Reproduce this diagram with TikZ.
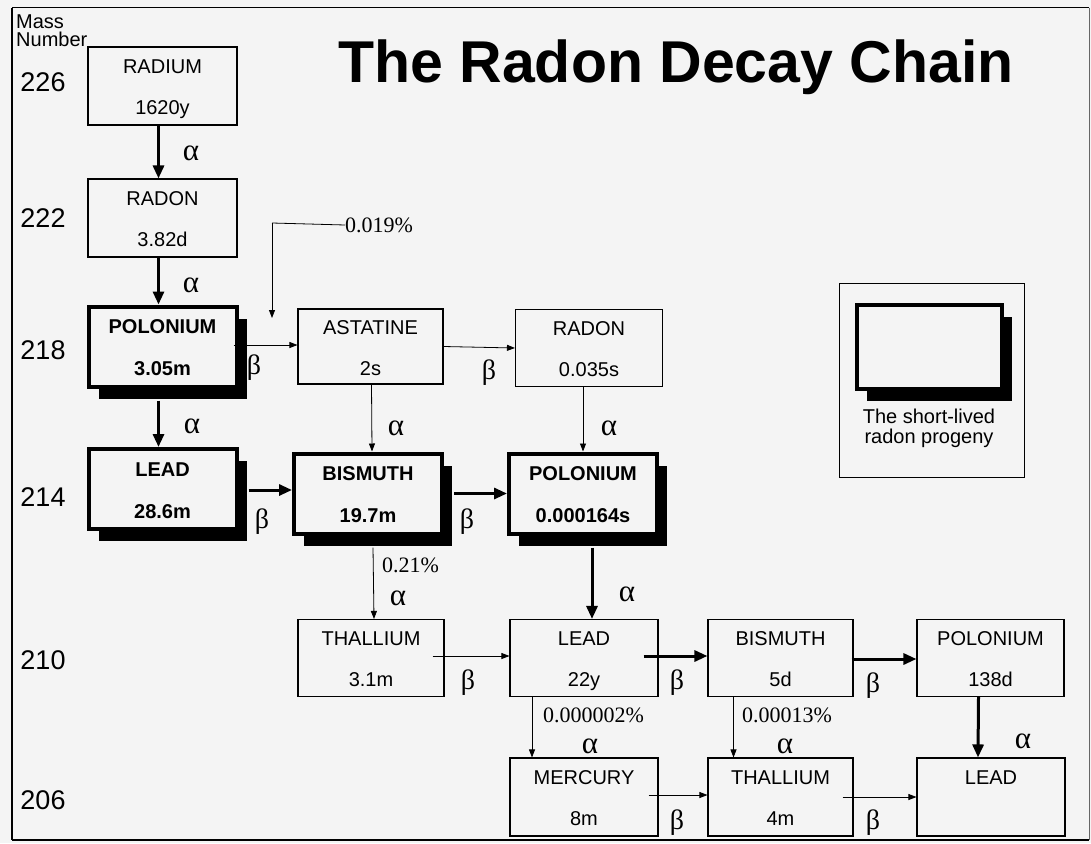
\documentclass[tikz,border=0pt]{standalone}
\usepackage{fontspec}
\setmainfont{Liberation Sans}
\newfontfamily\serifgr{Liberation Serif}
\usetikzlibrary{arrows.meta,shadows}
\definecolor{paper}{gray}{0.955}
\newcommand\elt[2]{\raisebox{0pt}[16pt][0pt]{#1}\\\raisebox{0pt}[14pt][0pt]{#2}}
\begin{document}
\begin{tikzpicture}[x=1pt,y=-1pt,
  every node/.style={inner sep=0pt},
  elem/.style={draw=black, fill=paper, line width=1.1pt, align=center,
    font=\fontsize{20}{41}\selectfont, minimum width=147pt, minimum height=77pt},
  shortlived/.style={elem, line width=4pt, minimum width=148pt, minimum height=80pt,
    font=\bfseries\fontsize{20}{42}\selectfont,
    drop shadow={shadow xshift=10pt, shadow yshift=-12pt, opacity=1, fill=black}},
  mass/.style={font=\fontsize{27}{27}\selectfont},
  alph/.style={font=\serifgr\fontsize{31}{31}\selectfont},
  bet/.style={font=\serifgr\fontsize{28}{28}\selectfont},
  pct/.style={font=\serifgr\fontsize{22}{22}\selectfont, anchor=west},
  strong/.style={line width=3pt, -{Triangle[length=13pt,width=11pt]}},
  weak/.style={line width=0.8pt, -{Triangle[length=8pt,width=6pt]}}
]
\useasboundingbox (0,0) rectangle (1091,843);
\fill[paper] (0,0) rectangle (1091,843);
% frame
\draw[line width=1pt] (1089,8) -- (12,8);
\draw[line width=2.5pt] (12,8) -- (12,840);
\draw[line width=1.5pt] (12,840) -- (1089,840);
\draw[line width=0.6pt, black!60] (1089,8) -- (1089,840);

% title
\node[font=\bfseries\fontsize{59}{59}\selectfont, anchor=base] (title) at (676,82) {The Radon Decay Chain};

% mass numbers
\node[font=\fontsize{20}{18}\selectfont, anchor=north west, align=left] (massnum) at (16,15) {Mass\\Number};
\node[mass] (m226) at (43,82) {226};
\node[mass] (m222) at (43,218) {222};
\node[mass] (m218) at (43,350) {218};
\node[mass] (m214) at (43,497) {214};
\node[mass] (m210) at (43,660) {210};
\node[mass] (m206) at (43,800) {206};

% legend
\draw[line width=1pt] (839,283) rectangle (1024,477);
\node[shortlived, minimum width=145pt, minimum height=84pt] (legbox) at (929,346.5) {};
\node[font=\fontsize{20}{20}\selectfont, align=center] (legtext) at (929,428) {The short-lived\\radon progeny};

% elements
\node[elem, minimum width=149pt, minimum height=78pt] (ra) at (162.5,86) {\elt{RADIUM}{1620y}};
\node[elem, minimum width=149pt, minimum height=78pt] (rn222) at (162.5,218) {\elt{RADON}{3.82d}};
\node[shortlived] (po218) at (162.5,346.5) {\elt{POLONIUM}{3.05m}};
\node[elem, minimum width=145pt, minimum height=75pt] (at) at (370.5,346.5) {\elt{ASTATINE}{2s}};
\node[elem] (rn218) at (589,348) {\elt{RADON}{0.035s}};
\node[shortlived] (pb214) at (162.5,489) {\elt{LEAD}{28.6m}};
\node[shortlived] (bi214) at (368,493.5) {\elt{BISMUTH}{19.7m}};
\node[shortlived] (po214) at (583,493.5) {\elt{POLONIUM}{0.000164s}};
\node[elem, minimum width=146pt] (tl210) at (371,658) {\elt{THALLIUM}{3.1m}};
\node[elem, minimum width=148pt] (pb210) at (584,658) {\elt{LEAD}{22y}};
\node[elem, minimum width=145pt] (bi210) at (780.5,658) {\elt{BISMUTH}{5d}};
\node[elem] (po210) at (990.5,658) {\elt{POLONIUM}{138d}};
\node[elem, minimum width=148pt, minimum height=78pt] (hg206) at (584,797) {\elt{MERCURY}{8m}};
\node[elem, minimum width=145pt, minimum height=78pt] (tl206) at (780.5,797) {\elt{THALLIUM}{4m}};
\node[elem, minimum width=148pt, minimum height=78pt] (pb206) at (991,797) {\elt{LEAD}{}};

% strong (main chain) arrows
\draw[strong] ([xshift=-4pt]ra.south) -- ([xshift=-4pt]rn222.north);
\draw[strong] ([xshift=-4pt]rn222.south) -- ([xshift=-4pt]po218.north);
\draw[strong] ([xshift=-4pt,yshift=-12pt]po218.south) -- ([xshift=-4pt]pb214.north);
\draw[strong] ([xshift=10pt,yshift=-1pt]pb214.east) -- ([yshift=-1pt]pb214.east -| bi214.west);
\draw[strong] ([xshift=10pt]bi214.east) -- (po214.west);
\draw[strong] ([xshift=9pt,yshift=-12pt]po214.south) -- ([xshift=8pt]pb210.north);
\draw[strong] ([xshift=-15pt,yshift=2pt]pb210.east) -- ([yshift=2pt]bi210.west);
\draw[strong] ([xshift=-2pt,yshift=-1pt]bi210.east) -- ([yshift=-1pt]po210.west);
\draw[strong] ([xshift=-12pt]po210.south) -- ([xshift=-13pt]pb206.north);

% weak (branch) arrows
\coordinate (br) at (272,223);
\draw[weak] ([xshift=-5pt,yshift=1.5pt]po218.east) -- ([yshift=1.5pt]at.west);
\draw[weak] (at.east) -- (rn218.west);
\draw[weak] ([xshift=1pt]at.south) -- ([xshift=4pt]bi214.north);
\draw[weak] (rn218.south -| po214.north) -- (po214.north);
\draw[weak] ([xshift=5pt,yshift=-12pt]bi214.south) -- ([xshift=3pt]tl210.north);
\draw[weak] ([xshift=-12pt,yshift=2pt]tl210.east) -- ([yshift=2pt]pb210.west);
\draw[weak] ([xshift=-52pt]pb210.south) -- ([xshift=-52pt]hg206.north);
\draw[weak] ([xshift=-47pt]bi210.south) -- ([xshift=-47pt]tl206.north);
\draw[weak] ([xshift=-10pt,yshift=2pt]hg206.east) -- ([yshift=2pt]tl206.west);
\draw[weak] ([xshift=-11pt]tl206.east) -- (pb206.west);
\node[pct] (p019) at (345,225) {0.019\%};
\draw[line width=0.8pt] (p019.west) -- (br);
\draw[weak] (br) -- ++(0,95);

% percent labels
\node[pct] (p021) at (382,565) {0.21\%};
\node[pct] (p2) at (543,715) {0.000002\%};
\node[pct] (p13) at (742,715) {0.00013\%};

% alpha labels
\node[alph] (a1) at (191,153) {α};
\node[alph] (a2) at (191,285) {α};
\node[alph] (a3) at (192,426) {α};
\node[alph] (a4) at (396,428) {α};
\node[alph] (a5) at (609,428) {α};
\node[alph] (a6) at (398,598) {α};
\node[alph] (a7) at (627,594) {α};
\node[alph] (a8) at (590,746) {α};
\node[alph] (a9) at (785,746) {α};
\node[alph] (a10) at (1023,741) {α};

% beta labels
\node[bet] (b1) at (254,368) {β};
\node[bet] (b2) at (489,373) {β};
\node[bet] (b3) at (262,522) {β};
\node[bet] (b4) at (467,522) {β};
\node[bet] (b5) at (468,683) {β};
\node[bet] (b6) at (677,683) {β};
\node[bet] (b7) at (873,686) {β};
\node[bet] (b8) at (677,823) {β};
\node[bet] (b9) at (873,823) {β};
\end{tikzpicture}
\end{document}
